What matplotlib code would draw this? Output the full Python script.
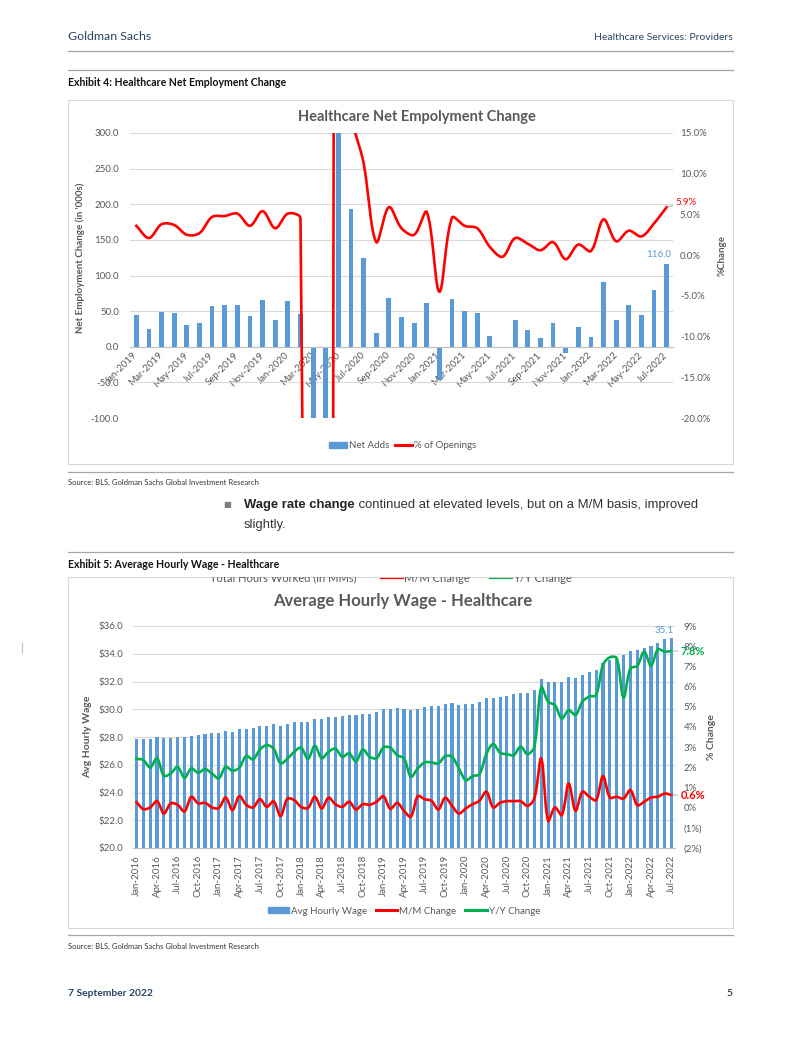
import numpy as np
import pandas as pd
import matplotlib.pyplot as plt
from matplotlib.patches import Rectangle, Patch
from matplotlib.lines import Line2D
from matplotlib.transforms import Bbox, TransformedBbox

W, H = 802, 1037

# Exhibit 4: monthly, Jan-2019 .. Jul-2022
emp_months = pd.date_range("2019-01-01", "2022-07-01", freq="MS").strftime("%b-%Y").tolist()
net_adds = [45, 25, 49, 47, 31, 34, 57, 59, 58, 43, 65, 38,
            64, 46, -120, -1400, 380, 193, 125, 19, 68, 42, 33, 62,
            -46, 67, 50, 47, 15, 0, 37, 24, 12, 34, -9, 28,
            14, 91, 38, 59, 45, 80, 116]
pct_openings = [3.6, 2.1, 3.8, 3.7, 2.5, 2.7, 4.7, 4.8, 5.1, 3.6, 5.4, 3.3,
                5.1, 4.5, -300, -400, 200, 18, 11.3, 1.6, 5.9, 3.3, 2.5, 5.3,
                -4.5, 4.6, 3.6, 3.3, 1.0, -0.2, 2.1, 1.4, 0.6, 1.6, -0.5, 1.3,
                0.5, 4.4, 1.7, 3.0, 2.3, 3.9, 5.9]
emp_left_ticks = [-100, -50, 0, 50, 100, 150, 200, 250, 300]
emp_right_ticks = [-20, -15, -10, -5, 0, 5, 10, 15]

# Exhibit 5: monthly, Jan-2016 .. Jul-2022
wage_months = pd.date_range("2016-01-01", "2022-07-01", freq="MS").strftime("%b-%Y").tolist()
avg_wage = [27.88, 27.83, 27.88, 27.97, 27.92, 27.95, 27.97, 27.97, 28.07, 28.16, 28.24, 28.26,
            28.28, 28.43, 28.38, 28.57, 28.60, 28.64, 28.79, 28.81, 28.91, 28.81, 28.93, 29.05,
            29.10, 29.10, 29.27, 29.30, 29.41, 29.46, 29.49, 29.56, 29.58, 29.65, 29.68, 29.80,
            29.99, 29.99, 30.06, 29.99, 29.92, 30.04, 30.13, 30.23, 30.23, 30.38, 30.42, 30.33,
            30.35, 30.38, 30.54, 30.80, 30.80, 30.86, 30.98, 31.07, 31.14, 31.19, 31.38, 32.18,
            31.99, 31.99, 31.94, 32.30, 32.23, 32.47, 32.66, 32.83, 33.36, 33.55, 33.62, 33.91,
            34.20, 34.27, 34.39, 34.58, 34.80, 35.04, 35.10]
mm_change = [0.27, -0.07, 0.01, 0.32, -0.29, 0.21, 0.14, -0.19, 0.54, 0.21, 0.24, 0.01,
             -0.02, 0.50, -0.12, 0.57, 0.14, 0.01, 0.42, 0.04, 0.32, -0.42, 0.44, 0.37,
             0.04, -0.02, 0.54, -0.04, 0.49, 0.17, 0.04, 0.29, -0.09, 0.17, 0.14, 0.29,
             0.57, -0.06, 0.24, -0.16, -0.45, 0.57, 0.42, 0.34, -0.09, 0.49, 0.09, -0.29,
             -0.04, 0.17, 0.34, 0.79, 0.01, 0.24, 0.32, 0.32, 0.32, 0.09, 0.45, 2.44,
             -0.65, 0.01, -0.37, 1.20, -0.16, 0.79, 0.54, 0.37, 1.56, 0.50, 0.54, 0.45,
             0.87, 0.12, 0.29, 0.50, 0.54, 0.70, 0.62]
yy_change = [2.42, 2.36, 1.99, 2.45, 1.58, 1.69, 2.02, 1.48, 1.94, 1.73, 1.91, 1.69,
             1.45, 2.02, 1.83, 1.98, 2.56, 2.39, 2.88, 3.10, 2.92, 2.19, 2.42, 2.77,
             2.97, 2.42, 3.07, 2.45, 2.77, 2.92, 2.52, 2.69, 2.29, 2.88, 2.52, 2.45,
             2.98, 2.97, 2.60, 2.44, 1.53, 1.94, 2.24, 2.24, 2.19, 2.55, 2.52, 1.94,
             1.36, 1.56, 1.66, 2.65, 3.15, 2.72, 2.65, 2.60, 3.02, 2.65, 3.02, 5.96,
             5.25, 5.08, 4.42, 4.83, 4.59, 5.25, 5.50, 5.58, 7.07, 7.45, 7.40, 5.45,
             6.90, 7.02, 7.73, 7.03, 7.84, 7.73, 7.76]
wage_left_ticks = [20, 22, 24, 26, 28, 30, 32, 34, 36]
wage_right_ticks = list(range(-2, 10))

BLUE = "#5B9BD5"
RED = "#FF0000"
GREEN = "#00B050"
GREY = "#595959"
GRID = "#D9D9D9"
NAVY = "#2B4563"
PAGE = ["Lato", "DejaVu Sans"]
BODY = ["Liberation Sans", "DejaVu Sans"]
CHART = ["Lato", "DejaVu Sans"]


def px_rect(x0, y0, x1, y1):
    return [x0 / W, 1 - y1 / H, (x1 - x0) / W, (y1 - y0) / H]


def smooth_on(ax, xv, yv, n=30):
    # excel-like smoothed line: bezier through the points, tangents weighted
    # by segment length in screen space
    P = ax.transData.transform(np.column_stack([xv, yv]).astype(float))
    d = np.maximum(np.linalg.norm(np.diff(P, axis=0), axis=1), 1e-9)
    m = len(P)
    t = np.linspace(0, 1, n + 1)[1:, None]
    out = [P[:1]]
    for i in range(m - 1):
        if i > 0:
            t0 = (P[i + 1] - P[i - 1]) / (d[i - 1] + d[i])
        else:
            t0 = (P[1] - P[0]) / d[0]
        if i < m - 2:
            t1 = (P[i + 2] - P[i]) / (d[i] + d[i + 1])
        else:
            t1 = (P[i + 1] - P[i]) / d[i]
        c1 = P[i] + t0 * d[i] / 3
        c2 = P[i + 1] - t1 * d[i] / 3
        seg = ((1 - t)**3 * P[i] + 3 * (1 - t)**2 * t * c1
               + 3 * (1 - t) * t**2 * c2 + t**3 * P[i + 1])
        out.append(seg)
    curve = ax.transData.inverted().transform(np.vstack(out))
    return curve[:, 0], curve[:, 1]


def pct_label(v):
    return f"({abs(v)}%)" if v < 0 else f"{v}%"


fig = plt.figure(figsize=(W / 100, H / 100), dpi=100)
page = fig.add_axes([0, 0, 1, 1])
page.set_xlim(0, W)
page.set_ylim(H, 0)
page.axis("off")

# ---- page furniture ----
page.text(68, 36, "Goldman Sachs", fontsize=8.9, color=NAVY, family=PAGE, va="center")
page.text(733, 38, "Healthcare Services: Providers", fontsize=7.5, color=NAVY, family=PAGE,
          va="center", ha="right")
for yy in (51, 70, 472, 552, 935):
    page.plot([68, 733], [yy, yy], color="#A6A6A6", lw=0.9)
page.text(68, 83, "Exhibit 4: Healthcare Net Employment Change", fontsize=7.6, fontweight="bold",
          family=PAGE, va="center", color="#111111")
page.text(68, 565, "Exhibit 5: Average Hourly Wage - Healthcare", fontsize=7.6, fontweight="bold",
          family=PAGE, va="center", color="#111111")
for yy in (482, 946):
    page.text(68, yy, "Source: BLS, Goldman Sachs Global Investment Research", fontsize=5.5,
              family=PAGE, va="center", color="#333333")
page.text(223, 505, "\u25a0", fontsize=6, color="#7F7F7F", family="DejaVu Sans", va="center")
bold = page.text(244, 505, "Wage rate change", fontsize=9.4, fontweight="bold", family=BODY,
                 va="center", color="#222222")
page.annotate(" continued at elevated levels, but on a M/M basis, improved", xy=(1, 0),
              xycoords=bold, va="bottom", ha="left", fontsize=9.4, family=BODY, color="#333333")
page.text(244, 525, "slightly.", fontsize=9.4, family=BODY, va="center", color="#333333")
page.text(68, 993, "7 September 2022", fontsize=7.4, fontweight="bold", family=PAGE,
          color=NAVY, va="center")
page.text(733, 993, "5", fontsize=7.4, fontweight="bold", family=PAGE, color=NAVY,
          va="center", ha="right")
page.plot([22, 22], [643, 653], color="#BFBFBF", lw=0.8)

# chart frames
page.add_patch(Rectangle((68, 100), 665, 364, fill=False, ec=GRID, lw=0.8))
page.add_patch(Rectangle((68, 577), 665, 351, fill=False, ec=GRID, lw=0.8))
frame2_clip = TransformedBbox(Bbox.from_extents(68 / W, 1 - 928 / H, 733 / W, 1 - 577 / H),
                              fig.transFigure)

# ---- Exhibit 4 chart ----
page.text(417, 117, "Healthcare Net Empolyment Change", fontsize=10.5, fontweight="bold",
          family=CHART, color=GREY, ha="center", va="center")
ax1 = fig.add_axes(px_rect(130, 133, 673, 418))
x1 = np.arange(len(emp_months))
ax1.bar(x1, net_adds, width=0.38, color=BLUE)
ax1.set_xlim(-0.5, len(x1) - 0.5)
ax1.set_ylim(-100, 300)
ax1.set_yticks(emp_left_ticks)
ax1.set_yticklabels([f"{v:.1f}" for v in emp_left_ticks], family=CHART)
ax1.grid(axis="y", color=GRID, lw=0.8)
ax1.set_axisbelow(True)
for s in ("top", "right", "left"):
    ax1.spines[s].set_visible(False)
ax1.spines["bottom"].set_position(("data", 0))
ax1.spines["bottom"].set_color("#BFBFBF")
ax1.set_xticks(x1[::2])
ax1.set_xticklabels(emp_months[::2], rotation=45, ha="right", va="center",
                    rotation_mode="anchor", family=CHART)
ax1.tick_params(axis="x", length=0, pad=5, labelsize=7, labelcolor=GREY)
ax1.tick_params(axis="y", length=0, pad=8, labelsize=7, labelcolor=GREY)
ax1.patch.set_alpha(0)
ax1.annotate(f"{net_adds[-1]:.1f}", xy=(x1[-1], net_adds[-1]), xytext=(-8, 5),
             textcoords="offset pixels", ha="center", va="bottom", color=BLUE, fontsize=7,
             family=CHART)

ax1r = ax1.twinx()
ax1r.set_ylim(-20, 15)
sx, sy = smooth_on(ax1r, x1, pct_openings)
ax1r.plot(sx, sy, color=RED, lw=1.9)
ax1r.set_yticks(emp_right_ticks)
ax1r.set_yticklabels([f"{v:.1f}%" for v in emp_right_ticks], family=CHART)
ax1r.tick_params(axis="y", length=0, pad=5, labelsize=7, labelcolor=GREY)
for s in ax1r.spines.values():
    s.set_visible(False)
ax1r.annotate(f"{pct_openings[-1]:.1f}%", xy=(x1[-1], pct_openings[-1]), xytext=(9, 5),
              textcoords="offset pixels", ha="left", va="center", color=RED, fontsize=7,
              family=CHART,
              arrowprops=dict(arrowstyle="-", color="#A6A6A6", lw=0.6, shrinkA=0, shrinkB=0))

page.text(80, 258, "Net Employment Change (in '000s)", rotation=90, fontsize=7,
          fontweight="bold", family=CHART, color=GREY, ha="center", va="center")
page.text(722, 255, "%Change", rotation=90, fontsize=7, fontweight="bold", family=CHART,
          color=GREY, ha="center", va="center")
fig.legend(handles=[Patch(color=BLUE), Line2D([], [], color=RED, lw=2.2)],
           labels=["Net Adds", "% of Openings"], loc="center",
           bbox_to_anchor=(403 / W, 1 - 446 / H), ncol=2, frameon=False,
           prop={"family": CHART, "size": 7}, labelcolor=GREY, handlelength=1.8,
           handleheight=0.5, handletextpad=0.2, columnspacing=0.6)

# ---- Exhibit 5 chart ----
# legend of a hidden series, cut off by the chart frame
clip_items = [(210, "Total Hours Worked (in MMs)", None), (380, "M/M Change", RED),
              (489, "Y/Y Change", GREEN)]
for xx, label, col in clip_items:
    tx = xx
    if col is not None:
        ln, = page.plot([xx, xx + 23], [578, 578], color=col, lw=0.9)
        ln.set_clip_box(frame2_clip)
        tx = xx + 24
    t = page.text(tx, 578, label, fontsize=8, family=CHART, color=GREY, va="center",
                  clip_on=True)
    t.set_clip_box(frame2_clip)

page.text(403, 601, "Average Hourly Wage - Healthcare", fontsize=12, fontweight="bold",
          family=CHART, color=GREY, ha="center", va="center")
ax2 = fig.add_axes(px_rect(133, 626, 675, 848))
x2 = np.arange(len(wage_months))
ax2.bar(x2, avg_wage, width=0.45, color=BLUE)
ax2.set_xlim(-0.5, len(x2) - 0.5)
ax2.set_ylim(20, 36)
ax2.set_yticks(wage_left_ticks)
ax2.set_yticklabels([f"${v:.1f}" for v in wage_left_ticks], family=CHART)
ax2.grid(axis="y", color=GRID, lw=0.8)
ax2.set_axisbelow(True)
for s in ("top", "right", "left"):
    ax2.spines[s].set_visible(False)
ax2.spines["bottom"].set_color("#BFBFBF")
ax2.set_xticks(x2[::3])
ax2.set_xticklabels(wage_months[::3], rotation=90, ha="center", va="top", family=CHART)
ax2.tick_params(axis="x", length=0, pad=5, labelsize=7, labelcolor=GREY)
ax2.tick_params(axis="y", length=0, pad=7, labelsize=7, labelcolor=GREY)
ax2.patch.set_alpha(0)
ax2.annotate(f"{avg_wage[-1]:.1f}", xy=(x2[-1], avg_wage[-1]), xytext=(-7, 3),
             textcoords="offset pixels", ha="center", va="bottom", color=BLUE, fontsize=7,
             family=CHART)

ax2r = ax2.twinx()
ax2r.set_ylim(-2, 9)
for series, col in ((mm_change, RED), (yy_change, GREEN)):
    sx, sy = smooth_on(ax2r, x2, series)
    ax2r.plot(sx, sy, color=col, lw=1.9)
ax2r.set_yticks(wage_right_ticks)
ax2r.set_yticklabels([pct_label(v) for v in wage_right_ticks], family=CHART)
ax2r.tick_params(axis="y", length=0, pad=6, labelsize=7, labelcolor=GREY)
for s in ax2r.spines.values():
    s.set_visible(False)
for series, col in ((yy_change, GREEN), (mm_change, RED)):
    ax2r.annotate(f"{series[-1]:.1f}%", xy=(x2[-1], series[-1]), xytext=(9, 0),
                  textcoords="offset pixels", ha="left", va="center", color=col, fontsize=8,
                  fontweight="bold", family=CHART,
                  arrowprops=dict(arrowstyle="-", color="#A6A6A6", lw=0.6, shrinkA=0, shrinkB=0))

page.text(88, 737, "Avg Hourly Wage", rotation=90, fontsize=7.5, fontweight="bold",
          family=CHART, color=GREY, ha="center", va="center")
page.text(712, 737, "% Change", rotation=90, fontsize=7.5, fontweight="bold", family=CHART,
          color=GREY, ha="center", va="center")
fig.legend(handles=[Patch(color=BLUE), Line2D([], [], color=RED, lw=2.2),
                    Line2D([], [], color=GREEN, lw=2.2)],
           labels=["Avg Hourly Wage", "M/M Change", "Y/Y Change"], loc="center",
           bbox_to_anchor=(404 / W, 1 - 911 / H), ncol=3, frameon=False,
           prop={"family": CHART, "size": 7}, labelcolor=GREY, handlelength=2.2,
           handleheight=0.5, handletextpad=0.2, columnspacing=0.9)

fig.savefig("out.png", dpi=100)
